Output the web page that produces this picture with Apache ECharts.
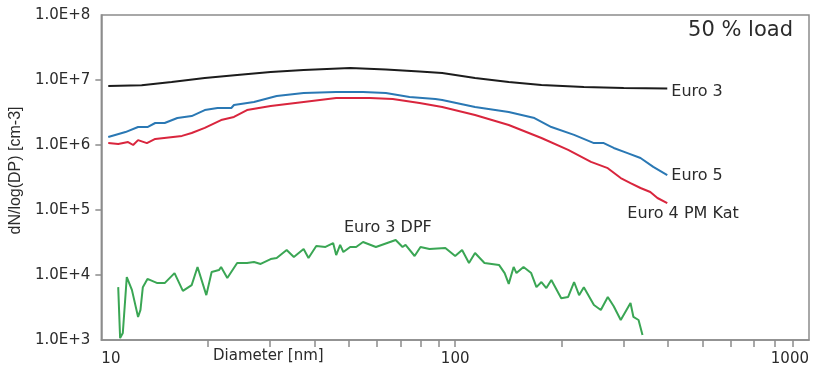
<!DOCTYPE html>
<html>
<head>
<meta charset="utf-8">
<script src="https://cdn.jsdelivr.net/npm/echarts@6/dist/echarts.min.js"></script>
<style>
  html, body { margin: 0; padding: 0; background: #fff; }
  #chart { width: 829px; height: 375px; }
</style>
</head>
<body>
<div id="chart"></div>
<script>
// Particle size distributions at 50 % engine load: [diameter nm, dN/log(DP) cm-3]
const euro3 = [
  [10.46, 8.1e6], [13.0, 8.3e6], [15.8, 9.3e6], [19.6, 1.07e7], [24.2, 1.19e7],
  [30.1, 1.33e7], [37.3, 1.43e7], [50.5, 1.53e7], [63.7, 1.45e7], [79.3, 1.35e7],
  [91.9, 1.28e7], [113.8, 1.07e7], [141.7, 9.3e6], [175.3, 8.4e6], [231, 7.8e6],
  [299.4, 7.5e6], [397.6, 7.4e6]
];
const euro5 = [
  [10.46, 1.33e6], [11.7, 1.58e6], [12.7, 1.89e6], [13.5, 1.89e6], [14.2, 2.18e6],
  [15.1, 2.18e6], [16.4, 2.6e6], [18.0, 2.79e6], [19.6, 3.45e6], [21.3, 3.71e6],
  [23.3, 3.71e6], [23.7, 4.12e6], [27.0, 4.58e6], [31.3, 5.68e6], [37.3, 6.31e6],
  [46.1, 6.54e6], [54.9, 6.54e6], [63.7, 6.31e6], [74.3, 5.48e6], [87.9, 5.1e6],
  [91.9, 4.92e6], [113.8, 3.84e6], [141.7, 3.22e6], [167.5, 2.6e6], [187, 1.89e6],
  [216.8, 1.43e6], [246.7, 1.07e6], [263, 1.07e6], [280.6, 9.0e5], [307, 7.5e5],
  [334, 6.3e5], [363, 4.6e5], [397.6, 3.45e5]
];
const euro4PmKat = [
  [10.46, 1.07e6], [11.16, 1.04e6], [11.9, 1.11e6], [12.3, 1.0e6], [12.7, 1.19e6],
  [13.45, 1.07e6], [14.2, 1.24e6], [16.9, 1.38e6], [18.0, 1.53e6], [19.6, 1.83e6],
  [21.8, 2.42e6], [23.7, 2.7e6], [25.8, 3.45e6], [30.1, 3.98e6], [37.3, 4.58e6],
  [46.1, 5.28e6], [57.4, 5.28e6], [66.6, 5.1e6], [79.3, 4.43e6], [91.9, 3.84e6],
  [113.8, 2.89e6], [141.7, 2.03e6], [175.3, 1.28e6], [208.6, 8.4e5], [242, 5.5e5],
  [270, 4.4e5], [293.7, 3.1e5], [313, 2.6e5], [334, 2.18e5], [356, 1.89e5],
  [373, 1.53e5], [397.6, 1.28e5]
];
const euro3Dpf = [
  [11.16, 6.5e3], [11.3, 1.07e3], [11.5, 1.28e3], [11.8, 9.3e3], [12.2, 5.9e3],
  [12.7, 2.26e3], [12.9, 2.9e3], [13.1, 6.5e3], [13.5, 8.7e3], [14.4, 7.5e3],
  [15.1, 7.5e3], [16.1, 1.07e4], [17.0, 5.7e3], [18.0, 7.0e3], [18.7, 1.33e4],
  [19.8, 4.9e3], [20.5, 1.11e4], [21.5, 1.19e4], [21.8, 1.33e4], [22.7, 9.0e3],
  [24.2, 1.53e4], [25.8, 1.53e4], [27.0, 1.58e4], [28.2, 1.48e4], [30.1, 1.76e4],
  [31.3, 1.83e4], [33.4, 2.43e4], [35.0, 1.89e4], [37.3, 2.51e4], [38.5, 1.83e4],
  [40.5, 2.79e4], [43.0, 2.7e4], [45.2, 3.1e4], [46.1, 2.03e4], [47.3, 2.9e4],
  [48.3, 2.26e4], [50.5, 2.7e4], [52.5, 2.7e4], [54.9, 3.22e4], [59.7, 2.7e4],
  [67.9, 3.45e4], [71.0, 2.7e4], [72.4, 2.9e4], [76.8, 1.96e4], [79.8, 2.7e4],
  [84.6, 2.51e4], [93.8, 2.6e4], [100, 1.96e4], [104.6, 2.43e4], [109.4, 1.53e4],
  [113.8, 2.18e4], [121, 1.53e4], [133, 1.43e4], [138, 1.07e4], [141.7, 7.3e3],
  [146.3, 1.33e4], [149, 1.07e4], [156, 1.33e4], [164, 1.07e4], [169.7, 6.5e3],
  [175.3, 7.8e3], [181, 6.3e3], [187, 8.4e3], [199.4, 4.4e3], [208.6, 4.6e3],
  [216.8, 7.8e3], [224, 4.9e3], [231, 6.5e3], [246.7, 3.45e3], [258, 2.9e3],
  [270, 4.6e3], [280.6, 3.3e3], [293.7, 2.03e3], [313, 3.7e3], [319, 2.26e3],
  [329.8, 2.03e3], [338.4, 1.19e3]
];

// Axis ticks and labels
const diameterLabels = [10, 100, 1000];
const diameterTicks = [20, 30, 40, 50, 60, 70, 80, 90, 100, 200, 300, 400, 500, 600, 700, 800, 900];
const concLabels = [1e3, 1e4, 1e5, 1e6, 1e7, 1e8];
const concTicks = [1e4, 1e5, 1e6, 1e7];

const TEXT = '#2b2b2b';
const FRAME = '#8c8c8c';
const WIDE = 'DejaVu Sans, sans-serif';

const chart = echarts.init(document.getElementById('chart'), null, { renderer: 'canvas' });

function lineSeries(name, data, color, label) {
  return {
    name: name,
    type: 'line',
    data: data,
    symbol: 'none',
    smooth: false,
    lineStyle: { color: color, width: 2 },
    endLabel: label ? Object.assign({
      show: true,
      formatter: name,
      color: TEXT,
      fontFamily: WIDE,
      fontSize: 16
    }, label) : { show: false },
    z: 3
  };
}

chart.setOption({
  animation: false,
  backgroundColor: '#ffffff',
  grid: {
    left: 97, right: 20, top: 15, bottom: 35,
    show: true, borderColor: FRAME, borderWidth: 1.5, backgroundColor: 'transparent'
  },
  xAxis: {
    type: 'log',
    logBase: 10,
    min: 10,
    max: 1000,
    axisLine: { show: true, lineStyle: { color: FRAME, width: 1.5 } },
    axisTick: {
      show: true, inside: false, length: 7,
      customValues: diameterTicks,
      lineStyle: { color: FRAME, width: 1.5 }
    },
    minorTick: { show: false },
    splitLine: { show: false },
    axisLabel: {
      customValues: diameterLabels,
      color: TEXT, fontFamily: WIDE, fontSize: 15, margin: 12,
      alignMinLabel: 'left', alignMaxLabel: 'right',
      formatter: v => String(Math.round(v))
    }
  },
  yAxis: {
    type: 'log',
    logBase: 10,
    min: 1e3,
    max: 1e8,
    name: 'dN/log(DP) [cm-3]',
    nameLocation: 'middle',
    nameGap: 69,
    nameRotate: 90,
    nameTextStyle: { color: TEXT, fontFamily: 'Liberation Sans, Arial, sans-serif', fontSize: 16, padding: [0, 0, 0, 14] },
    axisLine: { show: true, lineStyle: { color: FRAME, width: 1.5 } },
    axisTick: {
      show: true, inside: false, length: 6,
      customValues: concTicks,
      lineStyle: { color: FRAME, width: 1.5 }
    },
    splitLine: { show: false },
    axisLabel: {
      customValues: concLabels,
      color: TEXT, fontFamily: WIDE, fontSize: 15, margin: 11,
      formatter: v => '1.0E+' + Math.round(Math.log10(v))
    }
  },
  graphic: [
    {
      type: 'text', left: 213, top: 349,
      style: { text: 'Diameter [nm]', fill: TEXT, font: '15px "DejaVu Sans", sans-serif' }
    },
    {
      type: 'text', right: 36, top: 20,
      style: { text: '50 % load', fill: TEXT, font: '21px "DejaVu Sans", sans-serif' }
    },
    {
      type: 'text', left: 344, top: 220,
      style: { text: 'Euro 3 DPF', fill: TEXT, font: '16px "DejaVu Sans", sans-serif' }
    }
  ],
  series: [
    lineSeries('Euro 3', euro3, '#1c1c1c', { distance: 4, offset: [0, 3] }),
    lineSeries('Euro 5', euro5, '#2a78b4', { distance: 4, offset: [0, 1] }),
    lineSeries('Euro 4 PM Kat', euro4PmKat, '#d9253d', { distance: 0, offset: [-40, 11] }),
    lineSeries('Euro 3 DPF', euro3Dpf, '#3aa654', null)
  ]
});
</script>
</body>
</html>
